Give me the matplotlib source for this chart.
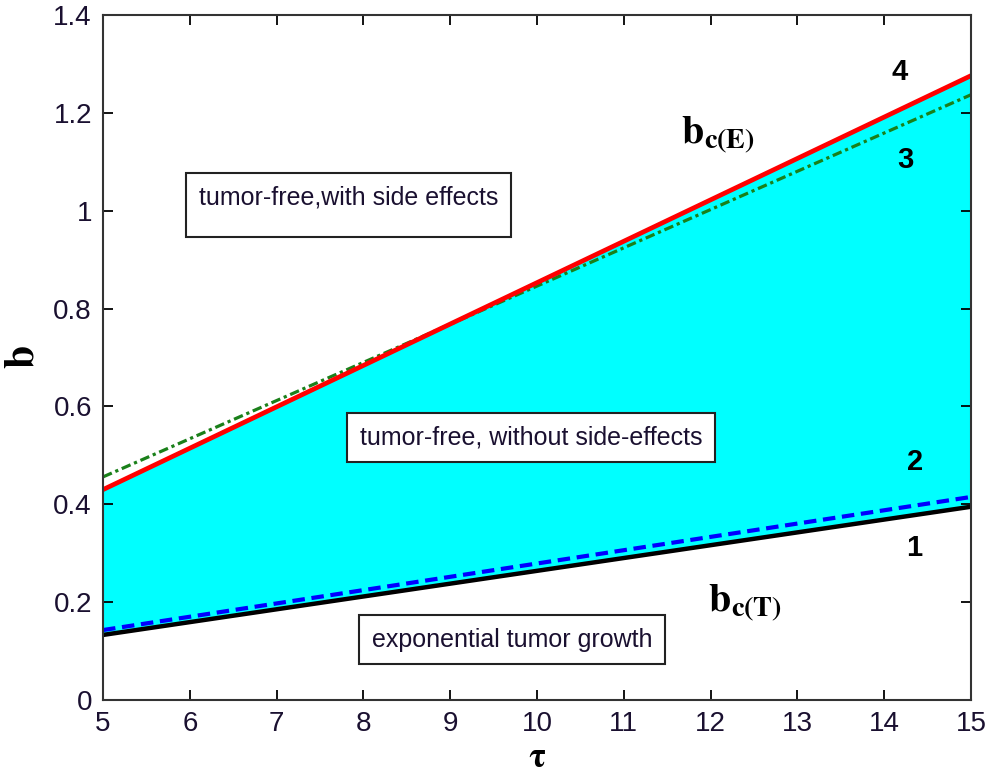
#phase_diagram.py

import numpy as np
import matplotlib.pyplot as plt

plt.rcParams['font.family'] = ['Liberation Sans', 'DejaVu Sans']
plt.rcParams['mathtext.fontset'] = 'stix'

#%% data

tau = [5, 10, 15]
b1 = [0.133, 0.264, 0.395]   # b_c(T), black
b2 = [0.143, 0.279, 0.415]   # blue dashed
b3 = [0.456, 0.846, 1.237]   # green dash-dot
b4 = [0.430, 0.853, 1.276]   # b_c(E), red

curve_names = ["1", "2", "3", "4"]
name_x = [14.35, 14.35, 14.24, 14.18]
name_y = [0.31, 0.487, 1.104, 1.284]

regions = ["tumor-free,with side effects\n",
           "tumor-free, without side-effects",
           "exponential tumor growth"]
region_x = [7.83, 9.93, 9.71]
region_y = [1.052, 0.536, 0.123]
region_va = ['top', 'center', 'center']

#%%

fig = plt.figure(figsize=(9.85, 7.81), dpi=100)
ax = fig.add_axes([0.1046, 0.1037, 0.8812, 0.8771])

ax.fill_between(tau, b1, b4, color=(0, 1, 1), linewidth=0)
ax.plot(tau, b1, color='black', linewidth=3.2)
ax.plot(tau, b2, color='blue', linewidth=3, linestyle=(0, (3, 1.6)))
ax.plot(tau, b3, color=(0.1, 0.5, 0.1), linewidth=2.3, linestyle=(0, (3, 1.2, 1, 1.2)))
ax.plot(tau, b4, color='red', linewidth=3.4)

for s, x, y in zip(curve_names, name_x, name_y):
    ax.text(x, y, s, fontsize=21, fontweight='bold', ha='center', va='center')

for s, x, y, va in zip(regions, region_x, region_y, region_va):
    ax.text(x, y, s, fontsize=18, ha='center', va=va, color='#1a1030',
            linespacing=0.55,
            bbox=dict(boxstyle='square,pad=0.5', facecolor='white',
                      edgecolor='#222222', linewidth=1.5))

ax.text(12.08, 1.155, r'$\mathbf{b}_{\mathbf{c(E)}}$', fontsize=29, ha='center', va='center')
ax.text(12.4, 0.2, r'$\mathbf{b}_{\mathbf{c(T)}}$', fontsize=29, ha='center', va='center')

ax.set_xlim(5, 15)
ax.set_ylim(0, 1.4)
ax.set_xticks(range(5, 16))
ax.set_yticks([0, 0.2, 0.4, 0.6, 0.8, 1, 1.2, 1.4])
ax.set_yticklabels(['0', '0.2', '0.4', '0.6', '0.8', '1', '1.2', '1.4'])
ax.tick_params(direction='in', top=True, right=True, length=7, width=1.3,
               labelsize=20, labelcolor='#1a1030', pad=8)
for sp in ax.spines.values():
    sp.set_linewidth(1.5)
    sp.set_color('#333333')

ax.set_xlabel(r'$\mathbf{\tau}$', fontsize=25, labelpad=3)
ax.set_ylabel(r'$\mathbf{b}$', fontsize=30, labelpad=8)

plt.savefig('out.png', dpi=100)
